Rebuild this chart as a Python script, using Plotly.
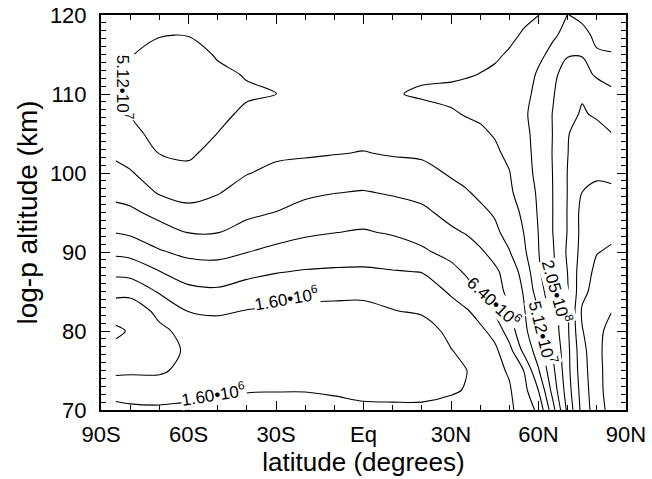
import numpy as np
import plotly.graph_objects as go

# ---------------- data ----------------
latitudes = [-85, -80, -70, -60, -50, -40, -30, -20, -10, 0, 10, 20,
             30, 35, 40, 45, 50, 55, 60, 65, 70, 75, 80, 85]
altitudes = [70.0, 72.5, 75.0, 77.5, 80.0, 82.5, 85.0, 87.5, 90.0, 92.5, 95.0,
             97.5, 100.0, 102.5, 105.0, 107.5, 110.0, 112.5, 115.0, 117.5, 120.0]

base_density = 1.6e6   # lowest labelled contour; contours are spaced by factors of 2
# log2(density / base_density); one profile per latitude, bottom (70 km) -> top (120 km)
log2_profiles = [
    [0.3, -0.4, -1.2, -1.7, -2.2, -1.5, -0.75, 0.27, 1.2, 2.03, 2.7, 3.27, 3.75, 4.15, 4.35, 4.5, 4.6, 4.6, 4.55, 4.5, 4.45],      # 85S
    [0.2, -0.45, -1.15, -1.55, -1.9, -1.6, -0.7, 0.35, 1.3, 2.16, 2.8, 3.4, 3.92, 4.35, 4.7, 5.03, 5.15, 5.1, 4.95, 4.8, 4.7],     # 80S
    [0.15, -0.45, -1.15, -1.4, -1.2, -0.75, 0.1, 0.97, 1.9, 2.6, 3.3, 4.08, 4.5, 5.02, 5.35, 5.5, 5.55, 5.5, 5.3, 4.95, 4.7],      # 70S
    [0.2, -0.3, -0.7, -0.85, -0.7, 0.02, 0.75, 1.47, 2.25, 3.03, 3.74, 4.29, 4.75, 5.15, 5.45, 5.6, 5.6, 5.5, 5.3, 4.97, 4.7],     # 60S
    [0.2, -0.35, -0.6, -0.65, -0.5, 0.15, 0.85, 1.55, 2.3, 3.03, 3.55, 4.05, 4.36, 4.68, 4.99, 5.2, 5.25, 5.15, 4.93, 4.7, 4.55],  # 50S
    [0.3, -0.05, -0.35, -0.45, -0.4, -0.05, 0.59, 1.26, 2.02, 2.65, 3.2, 3.62, 4.04, 4.3, 4.55, 4.85, 5.1, 4.95, 4.75, 4.6, 4.5],  # 40S
    [0.3, -0.03, -0.3, -0.4, -0.38, -0.15, 0.43, 1.05, 1.75, 2.38, 2.98, 3.43, 3.8, 4.15, 4.45, 4.75, 5.01, 4.8, 4.6, 4.5, 4.4],   # 30S
    [0.3, -0.03, -0.35, -0.5, -0.5, -0.25, 0.32, 0.93, 1.55, 2.15, 2.65, 3.18, 3.68, 4.1, 4.4, 4.65, 4.85, 4.75, 4.6, 4.5, 4.4],   # 20S
    [0.25, -0.1, -0.5, -0.65, -0.65, -0.3, 0.28, 0.88, 1.45, 2.02, 2.5, 3.02, 3.53, 4.04, 4.35, 4.6, 4.8, 4.75, 4.6, 4.5, 4.4],    # 10S
    [0.2, -0.25, -0.65, -0.85, -0.85, -0.4, 0.33, 0.87, 1.4, 1.92, 2.43, 2.94, 3.45, 3.96, 4.3, 4.55, 4.75, 4.75, 4.65, 4.55, 4.45], # Eq
    [0.2, -0.3, -0.7, -0.9, -0.8, -0.05, 0.45, 0.95, 1.5, 2.1, 2.6, 3.08, 3.6, 4.08, 4.4, 4.7, 4.95, 4.85, 4.75, 4.7, 4.65],       # 10N
    [0.2, -0.3, -0.65, -0.8, -0.6, 0.15, 0.6, 1.02, 1.85, 2.35, 2.8, 3.27, 3.7, 4.15, 4.5, 4.78, 5.08, 4.9, 4.85, 4.8, 4.8],       # 20N
    [0.35, -0.12, -0.4, -0.05, 0.33, 0.72, 1.09, 1.72, 2.28, 2.85, 3.29, 3.71, 4.1, 4.4, 4.65, 4.93, 5.15, 4.9, 4.9, 4.88, 4.87],  # 30N
    [0.45, 0.05, -0.05, 0.3, 0.6, 0.87, 1.6, 2.1, 2.55, 3.05, 3.55, 3.9, 4.3, 4.55, 4.78, 5.04, 5.18, 4.95, 4.88, 4.86, 4.85],     # 35N
    [0.6, 0.5, 0.45, 0.6, 0.8, 1.35, 2.08, 2.48, 2.85, 3.45, 3.8, 4.18, 4.5, 4.72, 4.9, 5.1, 5.2, 5.01, 4.87, 4.85, 4.85],         # 40N
    [0.75, 0.7, 0.75, 0.8, 1.3, 2.15, 2.6, 2.8, 3.35, 3.8, 4.1, 4.45, 4.7, 4.88, 5.05, 5.25, 5.3, 5.08, 4.93, 4.86, 4.83],         # 45N
    [0.8, 0.9, 1.1, 1.65, 2.5, 2.93, 3.25, 3.45, 3.95, 4.35, 4.6, 4.85, 4.97, 5.15, 5.3, 5.45, 5.4, 5.2, 5.05, 4.9, 4.8],          # 50N
    [1.45, 1.68, 2.02, 3.25, 3.75, 3.92, 4.08, 4.35, 4.82, 5.02, 5.18, 5.42, 5.55, 5.65, 5.72, 5.8, 5.7, 5.45, 5.3, 5.05, 4.9],    # 55N
    [2.2, 3.02, 3.92, 4.48, 4.8, 4.98, 5.5, 5.85, 5.97, 6.02, 6.1, 6.15, 6.3, 6.35, 6.4, 6.55, 6.3, 6.15, 5.75, 5.45, 4.98],       # 60N
    [4.67, 5.4, 5.8, 6.13, 6.43, 6.55, 6.75, 6.85, 6.92, 7.02, 7.02, 7.02, 7.03, 7.05, 7.03, 7.03, 6.95, 6.85, 6.3, 5.85, 5.5],    # 65N
    [7.25, 7.55, 7.7, 7.75, 7.85, 7.85, 7.93, 8.02, 8.15, 8.05, 8.05, 8.03, 8.03, 7.98, 7.94, 7.7, 7.5, 7.3, 6.95, 6.3, 6.02],     # 70N
    [9.33, 9.45, 9.6, 9.7, 9.95, 10.15, 9.7, 9.6, 9.35, 9.3, 9.3, 9.02, 8.65, 8.6, 8.45, 8.1, 7.9, 7.35, 6.95, 6.25, 5.8],         # 75N
    [10.6, 10.7, 10.7, 10.75, 10.7, 10.6, 10.45, 10.2, 9.97, 9.75, 9.6, 9.15, 8.9, 8.75, 8.35, 7.85, 7.6, 6.85, 6.1, 5.8, 5.5],    # 80N
    [11.3, 11.4, 11.45, 11.45, 11.35, 10.97, 10.75, 10.5, 10.1, 9.85, 9.6, 9.1, 8.88, 8.6, 8.02, 7.55, 7.2, 6.65, 6.05, 5.7, 5.4], # 85N
]

x_tickvals = [-90, -60, -30, 0, 30, 60, 90]
x_ticktext = ["90S", "60S", "30S", "Eq", "30N", "60N", "90N"]

# contour levels that carry a label in the reference (log2 steps above base_density)
labelled_levels = [5, 0, 0, 2, 5, 7]

# ---------------- figure ----------------
z = np.array(log2_profiles).T

fig = go.Figure()
fig.add_trace(go.Contour(
    x=latitudes, y=altitudes, z=z,
    autocontour=False,
    contours=dict(start=-2, end=11, size=1, coloring="none", showlabels=False),
    line=dict(color="black", width=1.1, smoothing=0.9),
    showscale=False, hoverinfo="skip",
))


def level_text(k):
    value = base_density * 2 ** k
    mant, exp = f"{value:.2e}".split("e")
    return f"{mant}\u202210<sup>{int(exp)}</sup>"


# label placement (lat, alt, angle) for each labelled level, in the same order
label_places = [(-81.8, 110.8, 90), (-26.5, 84.2, -10), (-51.6, 72.0, -9),
                (44.8, 83.8, 43), (61.8, 79.8, 76), (66.6, 85.0, 74)]

for k, (lx, ly, ang) in zip(labelled_levels, label_places):
    fig.add_annotation(x=lx, y=ly, xref="x", yref="y", text=level_text(k),
                       showarrow=False, textangle=ang, bgcolor="white",
                       borderpad=0, font=dict(size=17, color="black"))

tick_font = dict(family="Liberation Sans, Arial, sans-serif", size=22, color="black")
xtitle_font = dict(family="Liberation Sans, Arial, sans-serif", size=26, color="black")
ytitle_font = dict(family="Liberation Sans, Arial, sans-serif", size=28, color="black")

fig.update_xaxes(
    range=[-90, 90], tickmode="array", tickvals=x_tickvals, ticktext=x_ticktext,
    ticks="inside", ticklen=9, tickwidth=1.2, tickcolor="black",
    minor=dict(tickmode="linear", tick0=-90, dtick=10, ticks="inside", ticklen=5,
               tickwidth=1, tickcolor="black"),
    showline=True, linewidth=2, linecolor="black", mirror="ticks",
    showgrid=False, zeroline=False, tickfont=tick_font, automargin=False,
    ticklabelstandoff=4,
    title=dict(text="latitude (degrees)", font=xtitle_font, standoff=0),
)
fig.update_yaxes(
    range=[70, 120], tickmode="linear", tick0=70, dtick=10,
    ticks="inside", ticklen=9, tickwidth=1.2, tickcolor="black",
    minor=dict(tickmode="linear", tick0=70, dtick=1, ticks="inside", ticklen=5,
               tickwidth=1, tickcolor="black"),
    showline=True, linewidth=2, linecolor="black", mirror="ticks",
    showgrid=False, zeroline=False, tickfont=tick_font, automargin=False,
    ticklabelstandoff=8,
    title=dict(text="log-p altitude (km)", font=ytitle_font, standoff=4),
)

fig.update_layout(
    width=652, height=479,
    margin=dict(l=101, r=26, t=15, b=69),
    paper_bgcolor="white", plot_bgcolor="white",
    font=dict(family="Liberation Sans, Arial, sans-serif", color="black"),
    showlegend=False,
)

# remove the browser's default 8px page margin so the figure sits at the page origin
fig.write_html("out.html", config={"displayModeBar": False},
               post_script="document.body.style.margin='0';")
